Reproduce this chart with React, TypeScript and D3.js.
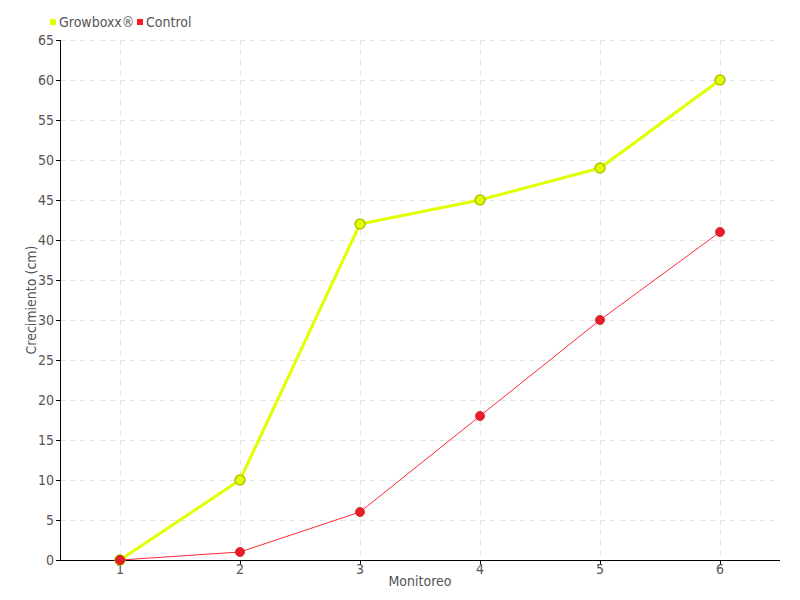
import React from "react";
import * as d3 from "d3";

const categories = ["1", "2", "3", "4", "5", "6"];
const growboxx = [0, 10, 42, 45, 49, 60];
const control = [0, 1, 6, 18, 30, 41];
const yTicks = [0, 5, 10, 15, 20, 25, 30, 35, 40, 45, 50, 55, 60, 65];
const seriesNames = ["Growboxx®", "Control"];

const W = 800, H = 600;
const M = { left: 60, right: 20, top: 40, bottom: 40 };
const FONT = "'DejaVu Sans Condensed', 'DejaVu Sans', sans-serif";

export default function App() {
  const x = d3.scaleBand<string>().domain(categories).range([M.left, W - M.right]);
  const y = d3.scaleLinear().domain([0, 65]).range([H - M.bottom, M.top]);
  const cx = (c: string) => (x(c) ?? 0) + x.bandwidth() / 2;
  const line = d3.line<number>().x((_, i) => cx(categories[i])).y((d) => y(d));
  const yellow = "#e2ff00";
  const red = "#ff2a3a";
  const textCol = "#555";

  return (
    <svg width={W} height={H} style={{ position: "absolute", left: 0, top: 0, background: "#fff" }}>
      {/* grid */}
      {yTicks.map((t) => (
        <line key={"gy" + t} x1={M.left} x2={W - M.right} y1={y(t) + 0.5} y2={y(t) + 0.5} stroke="#e4e4e4" strokeDasharray="5,5" />
      ))}
      {categories.map((c) => (
        <line key={"gx" + c} x1={cx(c) + 0.5} x2={cx(c) + 0.5} y1={M.top} y2={H - M.bottom} stroke="#e4e4e4" strokeDasharray="5,5" />
      ))}
      {/* axes */}
      <line x1={M.left + 0.5} x2={M.left + 0.5} y1={M.top} y2={H - M.bottom} stroke="#000" strokeWidth={1} />
      <line x1={M.left} x2={W - M.right} y1={H - M.bottom + 0.5} y2={H - M.bottom + 0.5} stroke="#000" strokeWidth={1} />
      {yTicks.map((t) => (
        <g key={"ty" + t}>
          <line x1={M.left - 4} x2={M.left} y1={y(t) + 0.5} y2={y(t) + 0.5} stroke="#000" />
          <text x={M.left - 6} y={y(t)} dy="0.35em" textAnchor="end" fontFamily={FONT} fontSize={14} fill={textCol}>{t}</text>
        </g>
      ))}
      {categories.map((c) => (
        <g key={"tx" + c}>
          <line x1={cx(c) + 0.5} x2={cx(c) + 0.5} y1={H - M.bottom} y2={H - M.bottom + 4} stroke="#000" />
          <text x={cx(c)} y={H - M.bottom + 14} textAnchor="middle" fontFamily={FONT} fontSize={14} fill={textCol}>{c}</text>
        </g>
      ))}
      <text x={(M.left + W - M.right) / 2} y={586} textAnchor="middle" fontFamily={FONT} fontSize={14} fill={textCol}>Monitoreo</text>
      <text transform={`translate(36,${(M.top + H - M.bottom) / 2}) rotate(-90)`} textAnchor="middle" fontFamily={FONT} fontSize={14} fill={textCol}>Crecimiento (cm)</text>

      {/* Growboxx */}
      <path d={line(growboxx) ?? ""} fill="none" stroke={yellow} strokeWidth={3} />
      {growboxx.map((v, i) => (
        <circle key={"g" + i} cx={cx(categories[i])} cy={y(v)} r={5} fill={yellow} stroke="#b0c400" strokeWidth={1.5} />
      ))}
      {/* Control */}
      <path d={line(control) ?? ""} fill="none" stroke={red} strokeWidth={1} />
      {control.map((v, i) => (
        <circle key={"c" + i} cx={cx(categories[i])} cy={y(v)} r={4.5} fill="#e81c2a" stroke="#d01020" strokeWidth={0.8} />
      ))}

      {/* legend */}
      <rect x={50} y={19} width={6} height={6} fill={yellow} />
      <text x={59} y={22} dy="0.35em" fontFamily={FONT} fontSize={14} fill={textCol}>{seriesNames[0]}</text>
      <rect x={137} y={19} width={6} height={6} fill="#ff1a2a" />
      <text x={146} y={22} dy="0.35em" fontFamily={FONT} fontSize={14} fill={textCol}>{seriesNames[1]}</text>
    </svg>
  );
}
